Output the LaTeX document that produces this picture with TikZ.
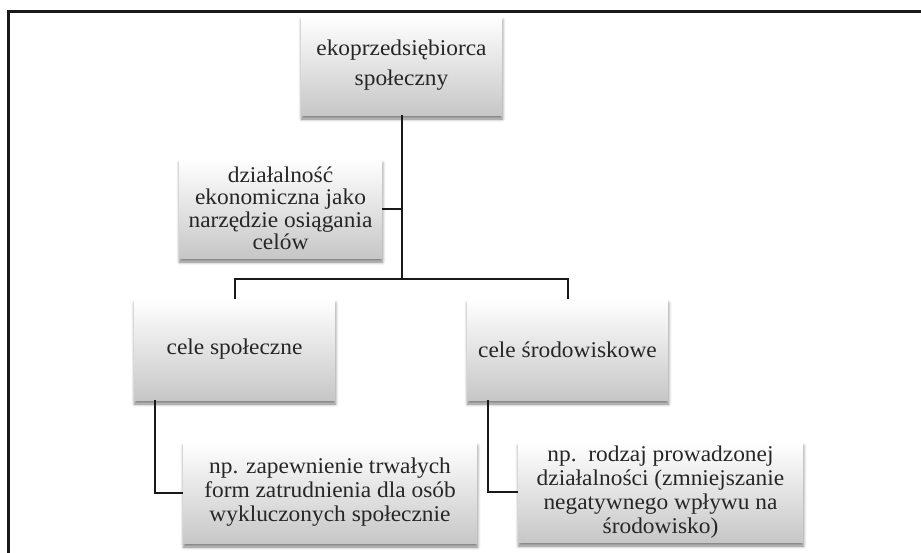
\documentclass[tikz,border=0pt]{standalone}
\usepackage{fontspec}
\setmainfont[FakeStretch=1.04]{Liberation Serif}
\usetikzlibrary{shadows.blur}
\begin{document}
\begin{tikzpicture}[x=1pt,y=-1pt,
  box/.style={rectangle, inner sep=0pt, align=center, text=black!85,
    top color=white, bottom color=black!22,
    font=\fontsize{22.5}{24}\selectfont,
    blur shadow={shadow xshift=0.5pt, shadow yshift=-4pt, shadow blur radius=3pt, shadow opacity=50}},
  conn/.style={line width=2pt, black!90},
  frame/.style={line width=3pt, black!90}]
\useasboundingbox (0,0) rectangle (921,552);
\clip (0,0) rectangle (921,552);
\draw[frame] (8,570) -- (8,11.5) -- (940,11.5);
\node[box, minimum width=201pt, minimum height=99pt, font=\fontsize{22.5}{30}\selectfont] (top) at (401.5,65.5) {ekoprzedsiębiorca\\społeczny};
\node[box, minimum width=203pt, minimum height=99pt, font=\fontsize{22.5}{22.5}\selectfont] (mid) at (280.5,208.5) {działalność\\ekonomiczna jako\\narzędzie osiągania\\celów};
\node[box, minimum width=201pt, minimum height=101pt] (soc) at (234.5,349.5) {cele społeczne};
\node[box, minimum width=201pt, minimum height=101pt] (env) at (567.5,349.5) {cele środowiskowe};
\node[box, minimum width=294pt, minimum height=101pt] (bl) at (330,492.5) {np. zapewnienie trwałych\\form zatrudnienia dla osób\\wykluczonych społecznie};
\node[box, minimum width=285pt, minimum height=100pt] (br) at (660.5,492) {np.~~rodzaj prowadzonej\\działalności (zmniejszanie\\negatywnego wpływu na\\środowisko)};
\coordinate (j) at (401.5,278.5);
\draw[conn] (top.south) -- (j);
\draw[conn] (mid.east) -- (mid.east -| j);
\draw[conn] (soc.north) |- (j) -| (env.north);
\draw[conn] ([xshift=21pt]soc.south west) |- (bl.west);
\draw[conn] ([xshift=21pt]env.south west) |- (br.west);
\end{tikzpicture}
\end{document}
